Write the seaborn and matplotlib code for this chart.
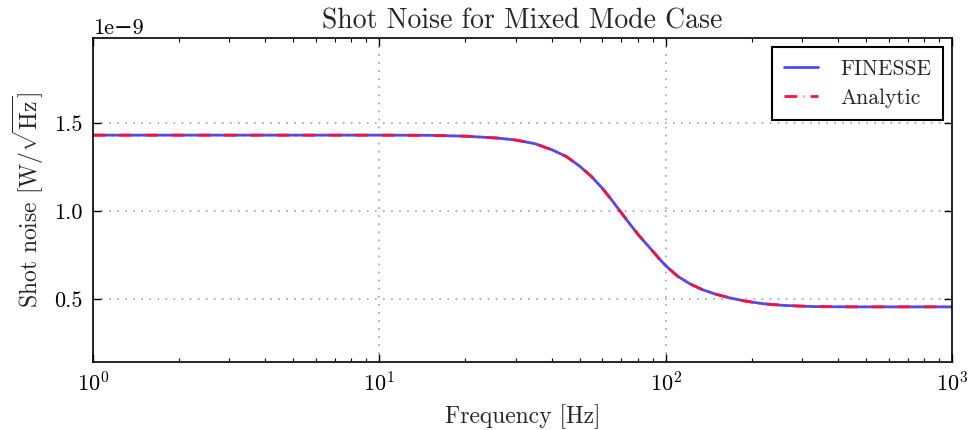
import numpy as np
import pandas as pd
import matplotlib
matplotlib.use("Agg")
import matplotlib.pyplot as plt
import seaborn as sns

# Data
freq_hz = [1, 2, 5, 10, 15, 20, 26, 30, 35, 40, 45, 50, 55, 60, 65, 70, 75, 81, 88,
           95, 100, 110, 122, 135, 150, 168, 190, 220, 260, 330, 450, 600, 800, 1000]
noise_e9 = [1.433, 1.433, 1.433, 1.433, 1.432, 1.427, 1.416, 1.405, 1.384, 1.350,
            1.311, 1.257, 1.198, 1.131, 1.060, 0.990, 0.926, 0.857, 0.791, 0.728,
            0.689, 0.629, 0.584, 0.551, 0.526, 0.505, 0.487, 0.472, 0.4625, 0.456,
            0.4545, 0.4545, 0.4545, 0.4545]
series_names = ["FINESSE", "Analytic"]

sns.set_style("ticks")
plt.rcParams["font.family"] = ["cmr10", "DejaVu Serif"]
plt.rcParams["mathtext.fontset"] = "cm"
plt.rcParams["axes.formatter.use_mathtext"] = False
plt.rcParams["axes.unicode_minus"] = True
plt.rcParams["lines.scale_dashes"] = False

fin = pd.DataFrame({"f": freq_hz, "v": np.array(noise_e9) * 1e-9})
ana = pd.DataFrame({"f": freq_hz, "v": np.array(noise_e9) * 1e-9})

fig = plt.figure(figsize=(9.71, 4.30), dpi=100)
ax = fig.add_axes([0.0955, 0.158, 0.8852, 0.753])

sns.lineplot(data=fin, x="f", y="v", ax=ax, color="#4a4aff", lw=2.0,
             label=series_names[0])
sns.lineplot(data=ana, x="f", y="v", ax=ax, color="#f51240", lw=2.0,
             linestyle=(0, (9.2, 4.6, 0.5, 4.6)), label=series_names[1])

ax.set_xscale("log")
ax.set_xlim(1, 1000)
ax.set_ylim(0.14e-9, 1.985e-9)
ax.set_yticks([0.5e-9, 1.0e-9, 1.5e-9])

ax.grid(True, which="major", linestyle=(0, (1.2, 4.6)), color="#a0a0a0",
        linewidth=1.2)
ax.tick_params(which="both", direction="in", top=True, right=True, colors="black")
ax.tick_params(which="major", length=6, width=1.0, labelsize=16, pad=7)
ax.tick_params(which="minor", length=3, width=0.8)
for sp in ax.spines.values():
    sp.set_linewidth(1.2)
    sp.set_color("black")
ax.yaxis.get_offset_text().set_fontsize(16)

ax.set_title("Shot Noise for Mixed Mode Case", fontsize=20, pad=7)
ax.set_xlabel("Frequency [Hz]", fontsize=17, labelpad=6)
ax.set_ylabel(r"Shot noise [W/$\sqrt{\mathrm{Hz}}$]", fontsize=17, labelpad=6)

leg = ax.legend(loc="upper right", fontsize=15.5, frameon=True, fancybox=False,
                edgecolor="black", framealpha=1, handlelength=1.55,
                borderpad=0.55, labelspacing=0.45, handletextpad=1.05,
                borderaxespad=0.42)
leg.get_frame().set_linewidth(1.5)

fig.savefig("out.png", dpi=100)
